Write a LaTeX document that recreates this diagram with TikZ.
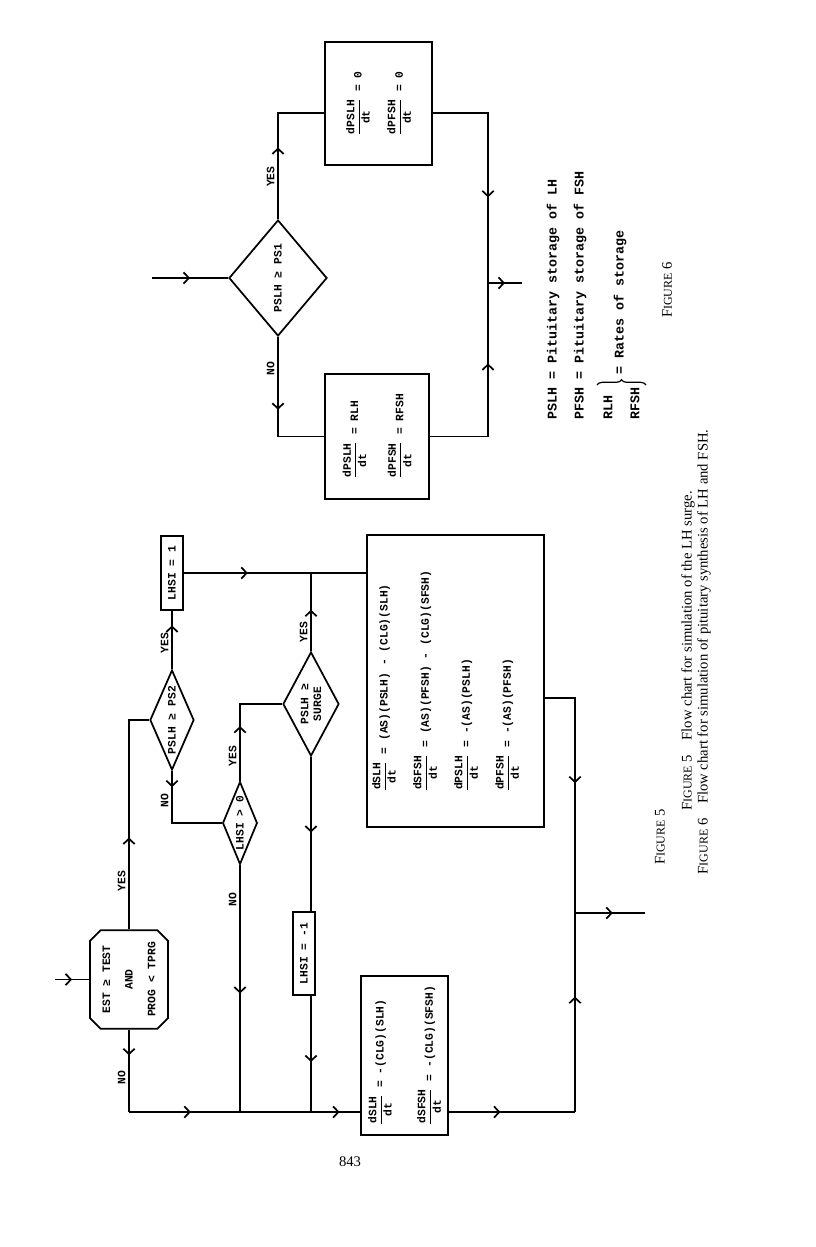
\documentclass[tikz,border=0pt]{standalone}
\usepackage{fontspec}
\setmainfont{Liberation Serif}
\setmonofont{Liberation Mono}
\usetikzlibrary{shapes.geometric,shapes.misc,arrows.meta,decorations.markings,decorations.pathreplacing}

\newcommand\dfr[2]{$\displaystyle\frac{\mbox{#1}}{\mbox{#2}}$}

\tikzset{
  tw/.style={font=\ttfamily\bfseries\fontsize{8.5}{10}\selectfont},
  twl/.style={font=\ttfamily\bfseries\fontsize{10}{12}\selectfont, inner sep=0pt},
  blk/.style={tw, draw, line width=1.3pt, inner sep=2pt},
  dec/.style={tw, draw, line width=1.3pt, diamond, inner sep=0pt, shape aspect=#1},
  dec/.default=2,
  lbl/.style={tw, inner sep=2pt},
  fl/.style={line width=1.3pt, postaction={decorate},
    decoration={markings, mark=at position #1 with {\arrow{Straight Barb[length=4pt,width=8.5pt]}}}},
  captxt/.style={font=\fontsize{11}{13}\selectfont, inner sep=0pt},
}

\begin{document}
\begin{tikzpicture}[x=0.75pt, y=0.75pt]
  \useasboundingbox (0,0) rectangle (816,-1247);

  \begin{scope}[shift={(816,-1247)}, rotate=90, transform shape]
  % Figure 5: LH surge
  \node[blk, chamfered rectangle, chamfered rectangle xsep=4pt, chamfered rectangle ysep=4pt,
        minimum width=74pt, minimum height=58.5pt, align=center,
        font=\ttfamily\bfseries\fontsize{8.5}{17}\selectfont] (est) at (267.5, 687)
        {EST ≥ TEST\\AND\\PROG < TPRG};
  \node[dec=3, minimum width=75pt, minimum height=33pt] (ps2) at (527, 644) {PSLH ≥ PS2};
  \node[blk, minimum width=55.5pt, minimum height=17pt] (lhs1) at (674, 644) {LHSI = 1};
  \node[dec=3, minimum width=62pt, minimum height=26pt] (gt0) at (424, 576) {LHSI > 0};
  \node[dec=1.8, minimum width=78pt, minimum height=42pt, align=center,
        font=\ttfamily\bfseries\fontsize{8.5}{9.5}\selectfont] (surge) at (543, 505) {PSLH ≥\\SURGE};
  \node[blk, minimum width=62pt, minimum height=16.5pt] (lhsm1) at (293.5, 512) {LHSI = -1};
  \node[blk, minimum width=219pt, minimum height=133pt, align=left] (big) at (566, 360.5)
        {\dfr{dSLH}{dt} = (AS)(PSLH) - (CLG)(SLH)\\[12pt]
         \dfr{dSFSH}{dt} = (AS)(PFSH) - (CLG)(SFSH)\hspace*{34pt}\\[12pt]
         \dfr{dPSLH}{dt} = -(AS)(PSLH)\\[12pt]
         \dfr{dPFSH}{dt} = -(AS)(PFSH)\rule[-21pt]{0pt}{0pt}};
  \node[blk, minimum width=119pt, minimum height=65pt, align=left] (box2) at (191.5, 411.5)
        {\dfr{dSLH}{dt} = -(CLG)(SLH)\\[18pt]
         \dfr{dSFSH}{dt} = -(CLG)(SFSH)};

  \coordinate (in5) at (267.5, 761);
  \coordinate (bend5) at (135, 687);
  \coordinate (j1) at (bend5 |- surge.west);
  \coordinate (j2) at (135, 241);
  \coordinate (j3) at (334, 241);
  \coordinate (out5) at (334, 171);
  \coordinate (bx) at (549, 0);

  \draw[fl=0.5] (in5) -- (est.north);
  \draw[fl=0.40] (est.east) -- node[lbl, above, pos=0.23] {YES} (est.east -| ps2.north) -- (ps2.north);
  \draw[fl=0.75] (ps2.east) -- node[lbl, above, pos=0.45] {YES} (lhs1.west);
  \draw[fl=0.35] (lhs1.south) -- (lhs1.south |- big.north);
  \draw[fl=0.16] (ps2.west) -- node[lbl, above, pos=0.57] {NO} (ps2.west -| gt0.north) -- (gt0.north);
  \draw[fl=0.46] (gt0.east) -- node[lbl, above, pos=0.32] {YES} (gt0.east -| surge.north) -- (surge.north);
  \draw[fl=0.53] (surge.east) -- node[lbl, above, pos=0.24] {YES} (surge.east -| lhs1.south);
  \draw[fl=0.49] (surge.west) -- (surge.west -| lhsm1.east);
  \draw[fl=0.57] (surge.west -| lhsm1.west) -- (j1);
  \draw[fl=0.52] (gt0.west) -- node[lbl, above, pos=0.14] {NO} (gt0.west -| bend5);
  \draw[fl=0.31] (est.west) -- node[lbl, above, pos=0.58] {NO} (bend5);
  \draw[fl=0.34] (bend5) -- (j1);
  \draw[fl=0.58] (j1) -- (j1 |- box2.north);
  \draw[fl=0.41] (j2 |- box2.south) -- (j2);
  \draw[fl=0.58] (j2) -- (j3);
  \draw[fl=0.47] (bx |- big.south) -- (bx |- j3) -- (j3);
  \draw[fl=0.54] (j3) -- (out5);

  \node[captxt] (fig5) at (410, 156) {F{\small IGURE} 5};
  \node[captxt] (cap5) at (596, 128) {F{\small IGURE} 5\quad Flow chart for simulation of the LH surge.};
  \node[captxt] (cap6) at (595, 112) {F{\small IGURE} 6\quad Flow chart for simulation of pituitary synthesis of LH and FSH.};

  % Figure 6: pituitary synthesis
  \node[dec=1, minimum width=87pt, minimum height=73.5pt] (ps1) at (969, 538) {PSLH ≥ PS1};
  \node[blk, minimum width=94pt, minimum height=78pt, align=left] (boxa) at (810.5, 439)
        {\dfr{dPSLH}{dt} = RLH\\[15pt]
         \dfr{dPFSH}{dt} = RFSH};
  \node[blk, minimum width=92pt, minimum height=80pt, align=left] (boxb) at (1143.5, 437.5)
        {\dfr{dPSLH}{dt} = 0\\[12pt]
         \dfr{dPFSH}{dt} = 0};

  \coordinate (in6) at (969, 664);
  \coordinate (j6) at (964, 328);
  \coordinate (out6) at (964, 294);
  \coordinate (yb) at (1134, 0);

  \draw[fl=0.5] (in6) -- (ps1.north);
  \draw[fl=0.50] (ps1.west) -- node[lbl, above, pos=0.32] {NO} (ps1.west -| boxa.north) -- (boxa.north);
  \draw[fl=0.62] (boxa.south) -- (boxa.south |- j6) -- (j6);
  \draw[fl=0.47] (ps1.east) -- node[lbl, above, pos=0.40] {YES} (ps1.east -| yb) -- (yb |- boxb.north);
  \draw[fl=0.62] (yb |- boxb.south) -- (yb |- j6) -- (j6);
  \draw[fl=0.5] (j6) -- (out6);

  % legend
  \node[twl, anchor=west] (leg1) at (827, 263) {PSLH = Pituitary storage of LH};
  \node[twl, anchor=west] (leg2) at (827, 236) {PFSH = Pituitary storage of FSH};
  \node[twl, anchor=west] (leg3) at (827, 208) {RLH};
  \node[twl, anchor=west] (leg4) at (827, 181) {RFSH};
  \draw[line width=0.9pt, decorate, decoration={brace, amplitude=4pt}] (862, 219) -- (862, 170);
  \node[twl, anchor=west] (leg5) at (872, 196) {= Rates of storage};
  \node[captxt] (fig6) at (957, 149) {F{\small IGURE} 6};
  \end{scope}

  \node[captxt] (pg) at (350, -1162) {843};
\end{tikzpicture}
\end{document}
